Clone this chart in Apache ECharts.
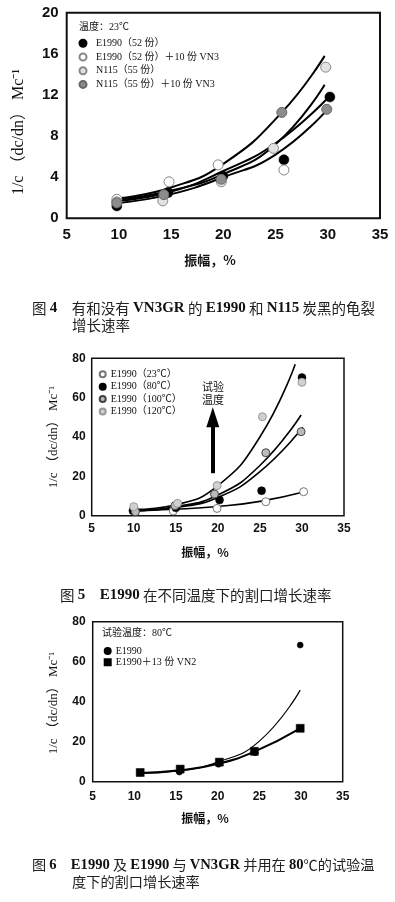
<!DOCTYPE html>
<html>
<head>
<meta charset="utf-8">
<script src="https://cdn.jsdelivr.net/npm/echarts@6/dist/echarts.min.js"></script>
<style>
html,body{margin:0;padding:0;background:#fff;}
#main{width:395px;height:902px;}
</style>
</head>
<body>
<div id="main"></div>
<script>
// ---------- shared axis ticks ----------
const xTicks = [5, 10, 15, 20, 25, 30, 35];
const y1Ticks = [0, 4, 8, 12, 16, 20];
const y23Ticks = [0, 20, 40, 60, 80];

// ---------- Figure 4 ----------
const f4Names = ['E1990（52 份）', 'E1990（52 份）＋10 份 VN3', 'N115（55 份）', 'N115（55 份）＋10 份 VN3'];
const f4E1990 = [[9.8, 1.2], [14.7, 2.5], [19.95, 4.1], [25.8, 5.7], [30.2, 11.8]];
const f4E1990VN3 = [[9.8, 1.85], [14.8, 3.55], [19.5, 5.2], [25.8, 4.7]];
const f4N115 = [[9.8, 1.6], [14.2, 1.7], [19.8, 3.55], [24.8, 6.8], [29.8, 14.7]];
const f4N115VN3 = [[9.8, 1.5], [14.3, 2.3], [19.8, 3.8], [25.6, 10.3], [29.9, 10.6]];
const f4CurveA = [[10, 1.95], [15, 3.0], [20, 5.3], [25.6, 10.3], [29.7, 15.8]];
const f4CurveB = [[10, 1.8], [15, 2.7], [20, 4.3], [25, 7.2], [29.7, 13.0]];
const f4CurveC = [[10, 1.7], [15, 2.6], [20, 4.6], [25, 7.3], [30, 11.7]];
const f4CurveD = [[10, 1.5], [15, 2.35], [20, 4.0], [25, 6.2], [29.8, 10.4]];

// ---------- Figure 5 ----------
const f5Names = ['E1990（23℃）', 'E1990（80℃）', 'E1990（100℃）', 'E1990（120℃）'];
const f5T23 = [[10.1, 2.9], [14.7, 2.4], [19.9, 3.7], [25.7, 7.1], [30.2, 12.2]];
const f5T80 = [[9.9, 2.5], [15.0, 4.0], [20.2, 8.0], [25.2, 12.7], [30.0, 70.2]];
const f5T100 = [[10.2, 2.0], [14.9, 5.1], [19.6, 11.0], [25.7, 32.0], [29.9, 42.7]];
const f5T120 = [[10.0, 4.6], [15.2, 6.3], [19.9, 15.3], [25.3, 50.3], [30.0, 67.8]];
const f5Curve120 = [[10, 3.2], [15, 5.6], [20, 15.3], [25, 40], [29.2, 77]];
const f5Curve100 = [[10, 2.6], [15, 4.6], [20, 10.5], [25, 25.5], [29.9, 51.2]];
const f5Curve80 = [[10, 2.4], [15, 4.2], [20, 9.3], [25, 22.4], [30.1, 44.9]];
const f5Curve23 = [[10, 2.6], [15, 3.3], [20, 4.7], [25, 7.3], [30.3, 12.2]];
const f5Arrow = [[19.4, 21.6], [19.4, 50]];

// ---------- Figure 6 ----------
const f6Names = ['E1990', 'E1990＋13 份 VN2'];
const f6E1990 = [[10.7, 4.3], [15.4, 4.8], [20.1, 8.7], [24.5, 14.5], [29.9, 68.3]];
const f6VN2 = [[10.7, 4.6], [15.5, 6.3], [20.2, 9.8], [24.4, 15.2], [29.9, 26.7]];
const f6CurveE1990 = [[10.7, 4.2], [15, 5.3], [20, 9.8], [25, 20.3], [29.9, 45.8]];
const f6CurveVN2 = [[10.7, 4.4], [15.5, 5.7], [20.2, 9.1], [24.4, 15.0], [29.9, 26.7]];

const SERIF = "'Liberation Serif','Noto Sans CJK SC',serif";
const SANS = "'Liberation Sans',Arial,sans-serif";
const CJK = "'Noto Sans CJK SC',sans-serif";

const chart = echarts.init(document.getElementById('main'), null, {renderer: 'canvas'});

function xAx(gi, fs, margin) {
  return {
    type: 'value', gridIndex: gi, min: xTicks[0], max: xTicks[xTicks.length - 1], interval: 5,
    axisLine: {show: false}, axisTick: {show: false}, splitLine: {show: false},
    axisLabel: {fontFamily: SANS, fontWeight: 'bold', fontSize: fs, color: '#111', margin: margin}
  };
}
function yAx(gi, ticks, fs, margin) {
  return {
    type: 'value', gridIndex: gi, min: ticks[0], max: ticks[ticks.length - 1], interval: ticks[1] - ticks[0],
    axisLine: {show: false}, axisTick: {show: false}, splitLine: {show: false},
    axisLabel: {fontFamily: SANS, fontWeight: 'bold', fontSize: fs, color: '#111', margin: margin, padding: [7, 0, 0, 0]}
  };
}
function curve(data, gi, w) {
  return {type: 'line', xAxisIndex: gi, yAxisIndex: gi, data: data, smooth: 0.5, showSymbol: false, silent: true,
    lineStyle: {color: '#000', width: w}, z: 2};
}
function pts(name, data, gi, size, symbol, fill, border, bw) {
  return {type: 'scatter', name: name, xAxisIndex: gi, yAxisIndex: gi, data: data, symbol: symbol, symbolSize: size,
    itemStyle: {color: fill, borderColor: border, borderWidth: bw, opacity: 1}, z: 3};
}

const series = [
  curve(f4CurveA, 0, 2), curve(f4CurveB, 0, 2), curve(f4CurveC, 0, 2), curve(f4CurveD, 0, 2),
  pts(f4Names[0], f4E1990, 0, 10, 'circle', '#000', '#000', 0.5),
  pts(f4Names[1], f4E1990VN3, 0, 10, 'circle', '#fff', '#888', 1),
  pts(f4Names[2], f4N115, 0, 10, 'circle', '#e2e2e2', '#888', 1),
  pts(f4Names[3], f4N115VN3, 0, 10, 'circle', '#8c8c8c', '#666', 1),

  curve(f5Curve120, 1, 1.6), curve(f5Curve100, 1, 1.6), curve(f5Curve80, 1, 1.6), curve(f5Curve23, 1, 1.6),
  pts(f5Names[0], f5T23, 1, 8, 'circle', '#fff', '#777', 1),
  pts(f5Names[1], f5T80, 1, 8, 'circle', '#000', '#000', 0.5),
  pts(f5Names[2], f5T100, 1, 8, 'circle', '#bbb', '#444', 1),
  pts(f5Names[3], f5T120, 1, 8, 'circle', '#d0d0d0', '#999', 1),
  {
    type: 'line', xAxisIndex: 1, yAxisIndex: 1, data: [], silent: true,
    markLine: {
      silent: true, symbol: ['none', 'triangle'], symbolSize: [13, 20], label: {show: false},
      lineStyle: {color: '#000', width: 4, type: 'solid'},
      emphasis: {disabled: true},
      data: [[{coord: f5Arrow[0]}, {coord: f5Arrow[1]}]]
    }
  },

  curve(f6CurveE1990, 2, 1.2), curve(f6CurveVN2, 2, 2),
  pts(f6Names[0], f6E1990, 2, 6, 'circle', '#000', '#000', 0.5),
  pts(f6Names[1], f6VN2, 2, 8, 'rect', '#000', '#000', 0.5)
];

function legend(names, left, top, isz, lh, gap, pad) {
  return {
    data: names, orient: 'vertical', left: left, top: top, itemWidth: isz, itemHeight: isz, itemGap: gap,
    selectedMode: false, padding: 0,
    textStyle: {fontFamily: SERIF, fontSize: 10, color: '#111', lineHeight: lh, padding: [0, 0, 0, pad]}
  };
}

function txt(x, y, s, fs, family) {
  return {
    type: 'text', x: x, y: y, silent: true,
    style: {text: s, fontSize: fs, fontFamily: family || SERIF, fill: '#111', textAlign: 'left', textVerticalAlign: 'middle'}
  };
}
const capRich = {
  r: {fontFamily: CJK, fontSize: 14.5, fill: '#222', fontWeight: 'normal'},
  b: {fontFamily: SERIF, fontSize: 15, fill: '#111', fontWeight: 'bold'}
};
const capRich6 = {
  r: {fontFamily: CJK, fontSize: 14.2, fill: '#222', fontWeight: 'normal'},
  b: {fontFamily: SERIF, fontSize: 14.6, fill: '#111', fontWeight: 'bold'}
};
function cap(x, y, s, rich) {
  return {type: 'text', x: x, y: y, silent: true,
    style: {text: s, rich: rich || capRich, textVerticalAlign: 'middle', textAlign: 'left'}};
}
function vname(x, y, s, fs) {
  return {type: 'text', x: x, y: y, rotation: Math.PI / 2, silent: true,
    style: {text: s, fontSize: fs, fontFamily: SERIF, fill: '#111', textAlign: 'center', textVerticalAlign: 'middle'}};
}
function xname(x, y, s, fs) {
  return {type: 'text', x: x, y: y, silent: true,
    style: {text: s, fontSize: fs, fontFamily: CJK, fontWeight: 'bold', fill: '#111', textAlign: 'center', textVerticalAlign: 'middle'}};
}

const option = {
  backgroundColor: '#fff',
  animation: false,
  grid: [
    {left: 66.7, top: 12.7, width: 313.3, height: 205.6, show: true, borderColor: '#111', borderWidth: 2},
    {left: 91.7, top: 358.3, width: 252.3, height: 157.4, show: true, borderColor: '#111', borderWidth: 1.5},
    {left: 92.7, top: 621.7, width: 250, height: 160, show: true, borderColor: '#111', borderWidth: 1.5}
  ],
  xAxis: [xAx(0, 15, 9), xAx(1, 12, 7), xAx(2, 12, 9)],
  yAxis: [yAx(0, y1Ticks, 15, 8), yAx(1, y23Ticks, 12, 6), yAx(2, y23Ticks, 12, 7)],
  legend: [
    legend(f4Names, 78.5, 37.3, 7, 12, 1.7, 4.5),
    legend(f5Names, 98.7, 368.3, 6, 12, 0.4, 0),
    legend(f6Names, 103.7, 645.5, 6, 11, 0.3, 0)
  ],
  series: series,
  graphic: [
    txt(79, 27, '温度：23℃', 10),
    vname(19, 132, '1/c （dc/dn） Mc⁻¹', 16),
    xname(210, 260, '振幅，%', 13),
    cap(32, 308, '{r|图 }{b|4}{r|　有和没有 }{b|VN3GR}{r| 的 }{b|E1990}{r| 和 }{b|N115}{r| 炭黑的龟裂}'),
    cap(72, 325, '{r|增长速率}'),

    {type: 'text', x: 213, y: 387, silent: true,
      style: {text: '试验', fontSize: 11, fontFamily: CJK, fill: '#111', textAlign: 'center', textVerticalAlign: 'middle'}},
    {type: 'text', x: 213, y: 400, silent: true,
      style: {text: '温度', fontSize: 11, fontFamily: CJK, fill: '#111', textAlign: 'center', textVerticalAlign: 'middle'}},
    vname(54, 437, '1/c （dc/dn） Mc⁻¹', 13),
    xname(205, 552, '振幅，%', 12),
    cap(60, 595, '{r|图 }{b|5}{r|　}{b|E1990}{r| 在不同温度下的割口增长速率}'),

    txt(102, 633, '试验温度：80℃', 10),
    vname(54, 703, '1/c （dc/dn） Mc⁻¹', 13),
    xname(205, 818, '振幅，%', 12),
    cap(32, 865, '{r|图 }{b|6}{r|　}{b|E1990}{r| 及 }{b|E1990}{r| 与 }{b|VN3GR}{r| 并用在 }{b|80}{r|℃的试验温}', capRich6),
    cap(72, 882, '{r|度下的割口增长速率}', capRich6)
  ]
};
chart.setOption(option);
</script>
</body>
</html>
